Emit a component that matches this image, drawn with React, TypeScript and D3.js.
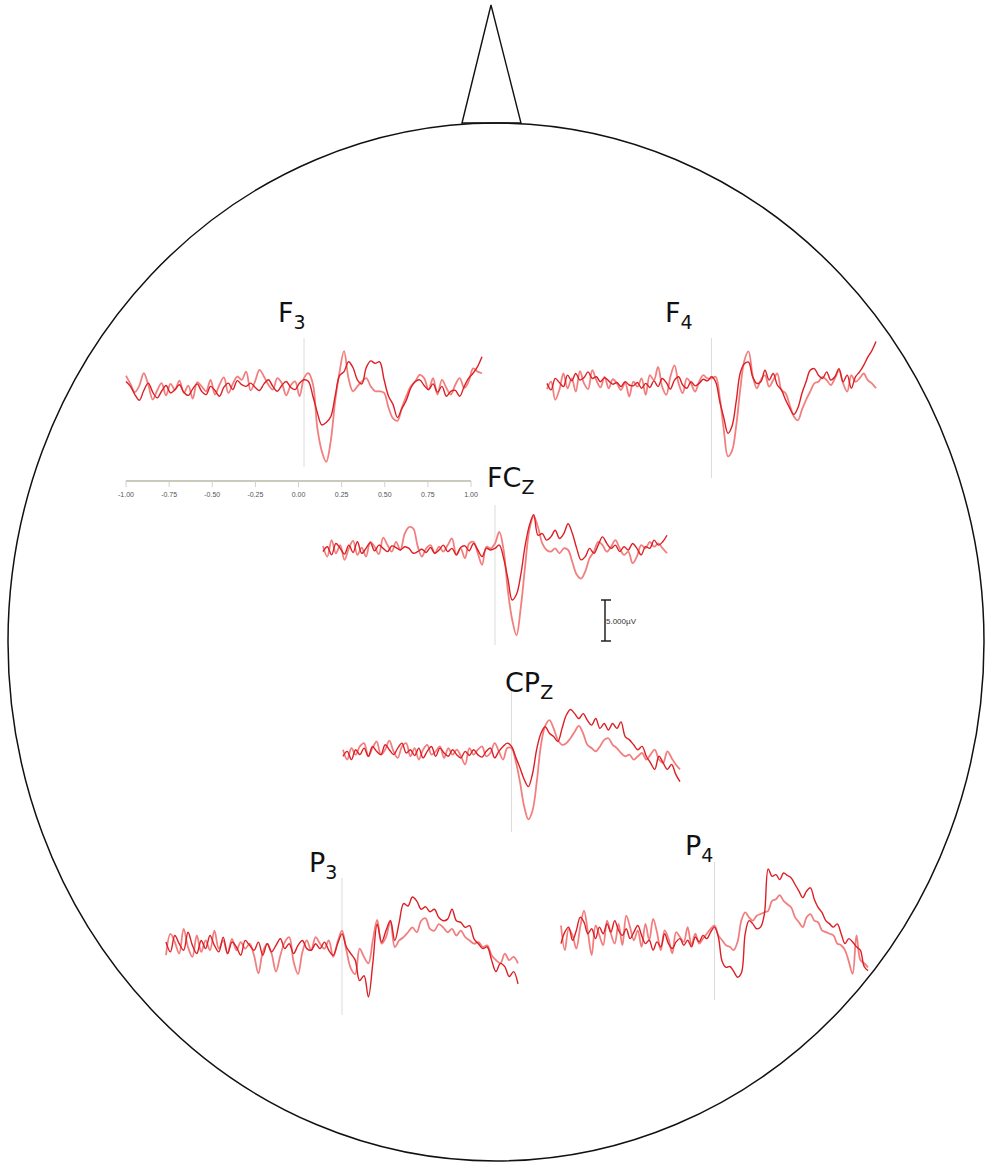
import React from "react";
import * as d3 from "d3";

// Time axis ticks (s)
const AXIS_TICKS = [-1, -0.75, -0.5, -0.25, 0, 0.25, 0.5, 0.75, 1];
const SCALE_BAR_UV = 5;
const SCALE_BAR_LABEL = "5.000µV";

// Electrode names (main letters + subscript)
const CHANNELS = ["F3", "F4", "FCz", "CPz", "P3", "P4"];
const LABEL_MAIN = ["F", "F", "FC", "CP", "P", "P"];
const LABEL_SUB = ["3", "4", "Z", "Z", "3", "4"];

// ERP amplitudes (µV, up = positive), sampled every 25 ms from -1 s to +1 s
const F3_A = [0.8, 0.2, -0.8, -1.5, -0.3, 0.6, -0.5, -1.2, -0.4, 0.3, -0.6, -0.2, 0.4, -0.5, -0.9, -0.1, 0.5, -0.4, -0.8, 0.2, -0.3, -1.0, 0.1, 0.6, -0.2, 0.9, 0.4, 0.2, 0.6, 0.1, -0.3, 0.5, 1.0, 0.2, -0.4, 0.3, 0.8, 0.1, -0.2, 0.6,
  1.0, 0.8, -1.0, -3.0, -4.5, -4.2, -3.5, -1.0, 1.5, 2.0, 3.2, 2.5, 1.0, 0.5, 2.5, 3.3, 3.0, 3.2, 1.0, -1.0, -2.0, -3.6, -2.5, -1.5, 0.0, 0.8, 1.0, 0.3, -0.2, 0.5, -0.5, 0.2, -1.0, -0.4, -0.3, -1.0, 0.2, 1.2, 1.8, 2.6, 3.8];
const F3_B = [1.5, 0.5, -0.5, 0.3, 1.8, 0.4, -1.4, -0.3, 0.6, -0.9, 0.5, -0.2, 0.9, -0.6, 0.3, -1.3, 0.7, 0.2, -0.4, 1.0, -0.8, 0.4, 1.3, -0.6, 0.5, 1.4, 1.0, 2.0, -0.3, 0.8, 2.2, 1.4, 0.4, -0.2, 1.2, 0.6, -0.9, 0.3, 0.8, -1.0,
  1.2, 1.8, 0.5, -4.9, -7.7, -9.0, -6.5, -1.6, 2.0, 4.5, 1.2, -0.4, 0.2, 0.8, 1.2, 0.2, -0.4, -0.4, -0.6, -2.4, -3.7, -4.0, -2.4, -1.0, 0.2, 0.8, 1.6, 1.2, -0.2, 1.2, -0.8, 1.0, 0.0, -0.8, 0.4, 1.2, 0.0, 0.8, 2.4, 2.0, 1.8];

const F4_A = [0.2, -0.6, 0.8, 0.3, -0.2, 1.2, 0.5, 1.4, 0.6, 0.9, 1.6, 0.8, 1.0, 0.4, 0.9, 0.5, 0.1, 0.3, -0.2, 0.4, 0.0, -0.1, 0.3, -0.4, 0.2, -0.3, 0.5, -0.2, 0.8, 0.3, -0.5, 0.6, 1.0, 0.0, -0.4, 0.4, -0.1, 0.2, 0.7, 0.5,
  1.0, 0.4, -2.0, -4.0, -5.9, -5.0, -2.0, 1.5, 2.6, 2.8, 1.0, 0.2, 0.4, 1.8, 0.6, 1.4, 0.0, -0.6, -1.8, -2.8, -3.6, -2.8, -1.0, 0.4, 1.8, 2.0, 1.2, 0.8, 1.6, 0.6, 1.0, 2.0, 0.4, 1.2, -0.4, 1.0, 1.6, 2.4, 3.4, 4.2, 5.3];
const F4_B = [-0.5, 0.4, -1.8, -0.6, 1.4, -0.4, 0.8, -0.8, 1.7, 0.2, -0.5, 1.8, 0.6, -0.3, 1.0, -0.4, 0.7, 0.2, -0.6, 0.3, -1.4, 0.4, -0.2, 0.8, -1.2, 1.2, 0.6, 2.2, -0.2, -1.2, 1.0, 2.4, 0.2, -1.0, 0.8, 0.2, -0.8, 0.4, 1.2, 0.8,
  0.8, 1.0, -1.5, -5.5, -8.7, -8.0, -5.0, -0.5, 3.0, 4.1, 1.2, -0.4, 0.6, 1.2, -0.2, 0.6, 1.4, -0.6, -1.0, -2.4, -3.8, -4.3, -3.0, -1.8, -0.8, 0.2, 0.4, 1.0, 0.6, 0.0, 0.8, 1.8, 0.2, -0.8, 1.2, 0.4, 0.8, 1.4, 0.6, 0.2, -0.4];

const FCZ_A = [-0.2, 0.4, -0.6, 0.8, 0.2, -0.5, 0.6, -0.3, 1.0, -0.4, 0.2, 0.9, -0.1, 0.6, 0.2, -0.2, 0.5, 0.3, 0.0, 0.4, 0.2, -0.4, -0.2, 0.1, -0.3, 0.3, -0.4, 0.0, 0.6, -0.2, 0.2, -0.6, 0.3, 0.5, -0.1, 0.8, 0.0, -0.8, 0.2, 0.0,
  0.2, 0.6, -1.0, -3.5, -6.1, -5.4, -3.0, 0.5, 3.0, 4.3, 1.8, 2.0, 1.2, 1.6, 2.4, 1.4, 2.0, 3.2, 2.0, 0.2, -1.2, -0.8, 0.2, -0.4, 0.6, 1.6, 0.8, 0.2, 0.6, -0.2, 0.4, 0.0, 0.8, 0.2, -0.6, 0.4, 0.2, 1.2, 0.6, 1.0, 1.8];
const FCZ_B = [0.5, -0.8, 1.2, -0.4, 0.6, -1.2, 0.2, 1.1, -0.6, 0.3, -0.8, 1.0, 0.4, -0.5, 1.5, 0.6, -0.2, 1.0, 0.0, 2.0, 2.8, 2.6, 0.5, -0.8, 0.2, 0.6, -0.4, 0.4, -0.2, 0.6, 1.4, -0.6, 0.2, -1.0, 0.8, 1.0, -0.4, -1.8, 0.4, 0.2,
  0.8, 2.2, 0.0, -5.0, -8.5, -10.4, -7.0, -2.0, 2.5, 4.1, 2.8, 0.8, 0.0, -0.2, 0.2, -0.4, 0.2, 0.0, -1.5, -3.0, -3.5, -2.6, -1.0, -0.2, 1.0, 0.6, -0.2, 0.4, 1.2, 0.2, -0.6, -0.2, -1.6, -0.8, 0.6, 0.2, 1.0, 0.4, 0.8, 0.2, -0.4];

const CPZ_A = [-0.4, 0.2, -0.8, 0.4, -0.2, 0.6, -0.4, 0.8, 0.2, -0.2, 1.0, 0.4, -0.2, 0.6, 1.2, 0.0, 0.4, -0.3, 0.6, -0.6, 0.2, 0.8, -0.4, 0.6, 0.0, -0.4, 0.4, -0.2, -0.6, 0.2, -0.3, 0.4, -0.2, -0.5, 0.2, 0.6, -0.6, 0.2, 0.8, 1.2,
  0.8, -0.5, -1.8, -3.2, -4.1, -2.5, 0.5, 2.4, 3.2, 2.4, 2.0, 1.4, 3.0, 4.6, 5.3, 4.8, 4.2, 4.8, 4.0, 3.4, 4.2, 3.0, 3.6, 2.8, 3.6, 3.0, 3.8, 2.0, 1.6, 1.0, 0.4, 0.8, -0.4, -1.2, -2.0, -0.4, -1.2, -2.0, -1.4, -2.6, -3.5];
const CPZ_B = [0.4, -0.8, 0.6, -0.2, 0.8, 1.2, -0.4, 0.6, 1.4, -0.2, 0.4, 1.5, 0.2, -0.6, 0.8, 1.2, -0.4, 0.6, -0.8, 0.4, 1.0, -0.2, 0.2, 0.8, -0.6, 0.6, -0.2, 0.4, -0.4, -1.4, 0.6, -0.2, 0.4, 0.8, -0.4, 0.0, 1.2, 0.2, -0.8, 0.6,
  0.6, -1.0, -3.5, -6.5, -8.1, -7.0, -3.5, 1.0, 3.3, 4.0, 3.0, 1.6, 1.0, 1.2, 1.8, 2.6, 3.3, 2.4, 1.0, 0.6, 0.2, 0.8, 1.6, 1.8, 1.0, 0.6, 0.0, -0.4, -0.2, -0.8, -0.4, 0.0, -0.8, -0.2, 0.4, -0.8, -1.2, 0.2, -0.6, -1.4, -2.0];

const P3_A = [0.6, -0.6, 1.4, 0.4, -0.4, 1.8, 0.2, -0.8, 0.8, -0.2, 1.4, 0.2, -0.6, 1.2, -0.8, 0.6, 0.0, -1.0, 0.8, 0.2, -0.4, 0.6, -1.0, 0.4, -0.6, 0.2, 1.0, -0.2, 0.4, -0.8, 0.2, 0.8, -0.2, -0.4, 0.4, -0.2, 0.6, -0.4, -1.0, 0.4,
  1.6, 0.0, -0.8, -1.6, -4.1, -3.5, -6.1, -2.0, 2.8, 0.6, 2.0, 3.2, 0.8, 3.0, 5.3, 5.0, 6.1, 5.6, 4.6, 4.9, 4.3, 4.6, 3.6, 3.2, 3.4, 4.6, 3.2, 3.0, 2.4, 2.6, 1.0, 0.4, -0.2, 0.0, -1.6, -3.0, -2.0, -2.4, -3.6, -3.0, -4.5];
const P3_B = [-1.0, 1.6, 0.6, -0.8, 2.2, 0.0, -1.2, 1.4, -0.6, 0.8, -0.4, 2.0, -0.2, 0.8, -0.8, 1.0, -0.4, 0.6, -0.2, 0.4, -1.0, -3.2, -0.6, 0.4, -0.8, -3.0, -1.0, 0.6, 1.2, -1.8, -3.3, -0.6, 0.8, -0.4, 1.2, 0.4, -0.2, 0.8, -1.2, 0.6,
  2.0, -0.4, -2.6, -3.3, -0.2, -1.2, -2.0, 0.8, 3.3, 0.4, 1.2, 3.2, 0.0, 0.8, 1.2, 1.8, 2.4, 1.8, 3.2, 3.5, 2.2, 2.0, 2.8, 2.4, 1.8, 2.2, 1.4, 2.0, 1.2, 0.8, 0.4, 0.6, 0.0, 0.2, -1.0, -1.6, -2.0, -0.8, -1.6, -1.2, -2.0];

const P4_A = [-0.8, 0.6, 1.2, -0.4, 0.8, 2.4, 1.8, 0.4, 1.0, -0.2, 1.2, 0.4, 1.6, 0.6, 2.0, 0.8, 0.2, 1.0, -0.2, 0.6, 1.4, 0.2, -0.8, -0.4, -1.6, -0.6, -1.2, 0.4, -0.8, -1.4, -0.6, -0.2, -1.0, -0.4, -1.2, 0.0, -0.6, 0.2, -0.2, 0.6,
  1.2, 0.0, -3.0, -3.7, -3.6, -4.2, -4.9, -4.4, 0.4, 2.0, 1.6, 1.0, 1.2, 2.8, 8.3, 7.4, 7.6, 7.0, 7.8, 7.5, 7.2, 6.4, 5.6, 4.8, 5.6, 6.0, 4.6, 3.6, 3.0, 2.0, 1.6, 1.2, 1.6, 0.4, -0.8, -0.2, -0.6, -1.2, -1.6, -3.6, -4.1];
const P4_B = [1.4, -1.6, 1.0, 0.2, -1.4, 1.2, 3.2, 0.6, -2.2, 1.4, 0.2, -1.0, 2.0, 0.4, -0.8, 1.6, -1.0, 2.6, 1.2, -0.4, 0.8, -1.2, 1.6, -0.4, 2.2, 0.6, -1.6, 0.8, -0.2, -2.0, 0.6, 0.0, -0.6, 1.2, -1.0, 0.4, -0.8, -0.2, 0.4, 1.0,
  1.4, 0.2, -0.4, -1.0, -1.2, -1.6, -0.6, 2.0, 3.0, 2.4, 2.0, 2.6, 2.8, 3.0, 3.2, 4.4, 4.6, 5.1, 4.4, 4.0, 3.6, 2.4, 1.8, 1.2, 2.4, 2.8, 2.0, 1.8, 0.8, 0.6, 0.4, 0.2, -0.8, -1.0, -1.6, -3.0, -4.5, 0.2, -2.8, -3.2, -3.7];

const SERIES_A = [F3_A, F4_A, FCZ_A, CPZ_A, P3_A, P4_A];
const SERIES_B = [F3_B, F4_B, FCZ_B, CPZ_B, P3_B, P4_B];

// Layout (pixels)
const W = 987;
const H = 1162;
const PX_PER_UV = 8.2;
const PANELS = [
  { x0: 126, x1: 482, base: 388, zTop: 338, zBot: 467, lx: 278, ly: 322 },
  { x0: 547, x1: 876, base: 385, zTop: 338, zBot: 478, lx: 665, ly: 322 },
  { x0: 323, x1: 667, base: 550, zTop: 505, zBot: 645, lx: 487, ly: 487 },
  { x0: 343, x1: 680, base: 753, zTop: 690, zBot: 832, lx: 505, ly: 692 },
  { x0: 166, x1: 518, base: 947, zTop: 878, zBot: 1015, lx: 309, ly: 872 },
  { x0: 561, x1: 868, base: 937, zTop: 862, zBot: 1000, lx: 685, ly: 855 },
];

const COLOR_A = "#dc1f24";
const COLOR_B = "#f27f7f";

function Panel({ idx }: { idx: number }) {
  const p = PANELS[idx];
  const a = SERIES_A[idx];
  const b = SERIES_B[idx];
  const n = a.length;
  const times = d3.range(n).map((i) => -1 + (2 * i) / (n - 1));
  const x = d3.scaleLinear().domain([-1, 1]).range([p.x0, p.x1]);
  const y = d3
    .scaleLinear()
    .domain([-5, 5])
    .range([p.base + 5 * PX_PER_UV, p.base - 5 * PX_PER_UV]);
  const line = d3
    .line<number>()
    .x((_, i) => x(times[i]))
    .y((v) => y(v))
    .curve(d3.curveCatmullRom.alpha(0.5));
  return (
    <g>
      <line x1={x(0)} x2={x(0)} y1={p.zTop} y2={p.zBot} stroke="#dcdcdc" strokeWidth={1} />
      <path d={line(b) || ""} fill="none" stroke={COLOR_B} strokeWidth={1.8} strokeLinejoin="round" />
      <path d={line(a) || ""} fill="none" stroke={COLOR_A} strokeWidth={1.4} strokeLinejoin="round" />
      <text x={p.lx} y={p.ly} fontFamily="DejaVu Sans, Verdana, sans-serif" fontSize={27} fill="#111">
        {LABEL_MAIN[idx]}
        <tspan fontSize={19} dy={7}>{LABEL_SUB[idx]}</tspan>
      </text>
    </g>
  );
}

export default function App() {
  const ax = d3.scaleLinear().domain([-1, 1]).range([126, 471]);
  const axisY = 481;
  const sbX = 605;
  const sbTop = 600;
  const sbBot = sbTop + SCALE_BAR_UV * PX_PER_UV;
  return (
    <svg
      width={W}
      height={H}
      viewBox={`0 0 ${W} ${H}`}
      style={{ position: "absolute", left: 0, top: 0, background: "#fff" }}
    >
      <rect x={0} y={0} width={W} height={H} fill="#fff" />
      {/* head */}
      <polygon points="462,123 491,5 521,123" fill="none" stroke="#111" strokeWidth={1.4} />
      <ellipse cx={496} cy={642} rx={488} ry={519} fill="none" stroke="#111" strokeWidth={1.5} />

      {/* time axis */}
      <line x1={ax(-1)} x2={ax(1)} y1={axisY} y2={axisY} stroke="#c9c9bc" strokeWidth={2} />
      {AXIS_TICKS.map((t) => (
        <g key={t}>
          <line x1={ax(t)} x2={ax(t)} y1={axisY} y2={axisY + 6} stroke="#d0d0d0" strokeWidth={1} />
          <text
            x={ax(t)}
            y={axisY + 16}
            textAnchor="middle"
            fontFamily="Liberation Sans Narrow, Liberation Sans, Arial, sans-serif"
            fontSize={7}
            fill="#555"
          >
            {t.toFixed(2)}
          </text>
        </g>
      ))}

      {CHANNELS.map((c, i) => (
        <Panel key={c} idx={i} />
      ))}

      {/* scale bar */}
      <line x1={sbX} x2={sbX} y1={sbTop} y2={sbBot} stroke="#222" strokeWidth={1.5} />
      <line x1={sbX - 4} x2={sbX + 6} y1={sbTop} y2={sbTop} stroke="#222" strokeWidth={1.5} />
      <line x1={sbX - 4} x2={sbX + 6} y1={sbBot} y2={sbBot} stroke="#222" strokeWidth={1.5} />
      <text x={sbX + 1} y={(sbTop + sbBot) / 2 + 3} fontFamily="Liberation Sans, Arial, sans-serif" fontSize={8} fill="#333">
        {SCALE_BAR_LABEL}
      </text>
    </svg>
  );
}
